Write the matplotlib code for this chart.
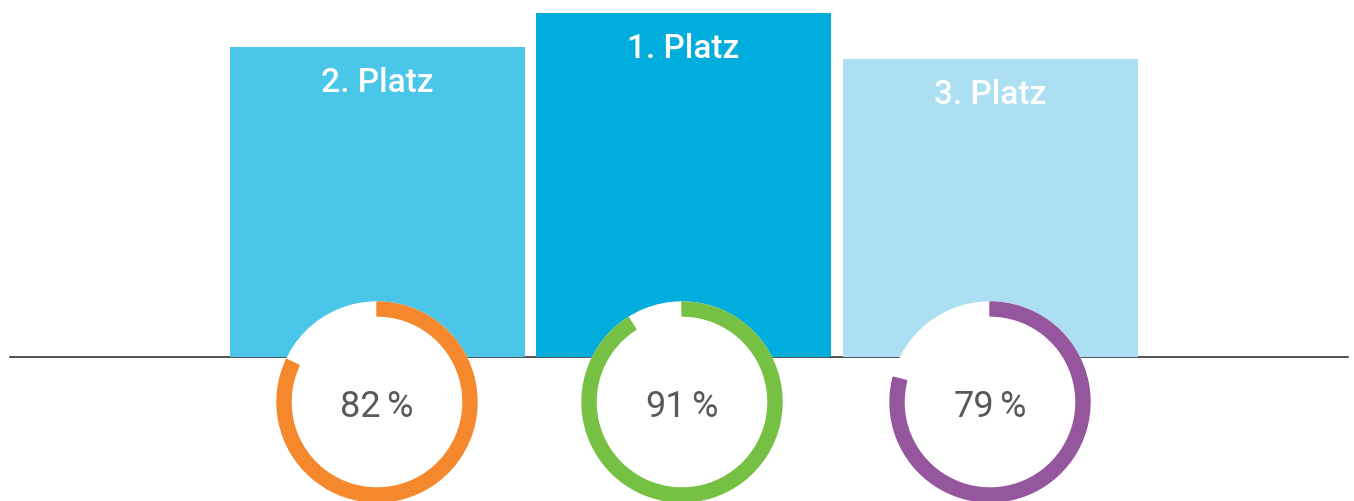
import matplotlib.pyplot as plt
from matplotlib.patches import Wedge, Circle

# data
labels = ['2. Platz', '1. Platz', '3. Platz']
bar_heights = [310, 344, 298]
percent = [82, 91, 79]
bar_colors = ['#4ac6e8', '#00addc', '#abdff1']
ring_colors = ['#f5882c', '#76c043', '#96569e']

# layout (pixel-like units, baseline at y=0)
xpos = [377.5, 683.5, 990.5]
bar_w = 295
ring_x = [377, 682, 990]
ring_y = -45
r_out = 100
ring_w = 14

fig = plt.figure(figsize=(13.54, 5.01), dpi=100)
ax = fig.add_axes([0, 0, 1, 1])
ax.set_xlim(0, 1354)
ax.set_ylim(-144, 357)
ax.axis('off')

ax.plot([10, 1348], [0, 0], color='#222222', lw=1.1, zorder=1)
ax.bar(xpos, bar_heights, width=bar_w, color=bar_colors, zorder=2)

for x, h, lab in zip(xpos, bar_heights, labels):
    ax.text(x, h - 45, lab, ha='center', va='baseline', color='white',
            fontsize=24, fontweight='medium', family=['Roboto', 'DejaVu Sans'],
            zorder=3)

for cx, p, c in zip(ring_x, percent, ring_colors):
    ax.add_patch(Circle((cx, ring_y), r_out, color='white', zorder=4))
    ax.add_patch(Wedge((cx, ring_y), r_out, 90 - 3.6 * p, 90, width=ring_w,
                       color=c, zorder=5))
    # number and percent sign with a narrow gap
    ax.text(cx + 4, ring_y - 15, str(p), ha='right', va='baseline',
            color='#58595b', fontsize=26, family='Roboto', zorder=6)
    ax.text(cx + 9, ring_y - 15, '%', ha='left', va='baseline',
            color='#58595b', fontsize=26, family='Roboto', zorder=6)

fig.savefig('out.png', dpi=100)
